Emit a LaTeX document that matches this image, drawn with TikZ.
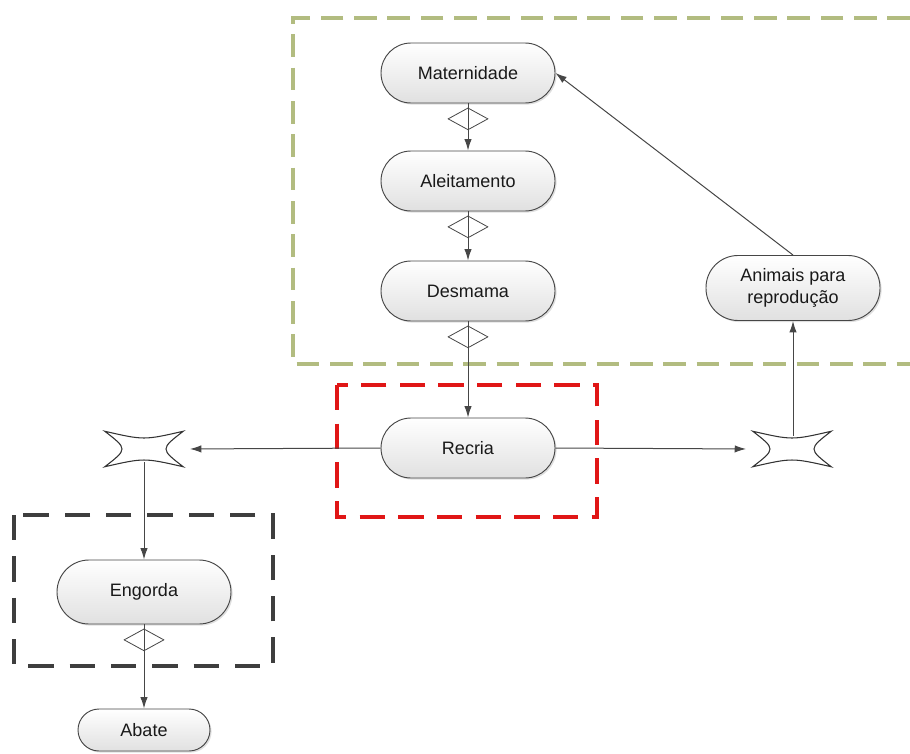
\documentclass[tikz,border=0pt]{standalone}
\usepackage{fontspec}
\setmainfont{Liberation Sans}
\usetikzlibrary{shapes.geometric,shadows,calc,arrows.meta}
\definecolor{boxgreen}{RGB}{178,188,128}
\definecolor{boxred}{RGB}{224,22,22}
\definecolor{boxdark}{RGB}{62,62,62}
\definecolor{linegray}{RGB}{70,70,70}
\definecolor{txt}{RGB}{25,25,25}

\begin{document}
\begin{tikzpicture}[x=0.75pt,y=-0.75pt,
  proc/.style={rectangle, rounded corners=22.5pt, draw=linegray, line width=0.7pt,
    top color=white, bottom color=black!12,
    drop shadow={shadow xshift=1.2pt, shadow yshift=-1.2pt, opacity=0.25},
    font=\fontsize{13.5}{16}\selectfont, text=txt, align=center,
    minimum width=130.5pt, minimum height=45pt, inner sep=0pt},
  smallproc/.style={proc, rounded corners=15.75pt, minimum width=99pt, minimum height=31.5pt},
  gate/.style={diamond, draw=linegray, fill=white, line width=0.6pt,
    minimum width=30pt, minimum height=16.5pt, inner sep=0pt},
  split/.style={rectangle, minimum width=58.5pt, minimum height=26.25pt, inner sep=0pt},
  splitline/.style={draw=black!80, line width=0.8pt, fill=white},
  flow/.style={draw=linegray, line width=0.75pt, -{Latex[length=8.5pt,width=5.5pt]}},
  greendash/.style={draw=boxgreen, line width=3pt, dash pattern=on 17pt off 8pt},
  reddash/.style={draw=boxred, line width=2.5pt, dash pattern=on 19pt off 10pt},
  darkdash/.style={draw=boxdark, line width=3pt, dash pattern=on 19pt off 12pt},
]
\useasboundingbox (0,0) rectangle (910,753);

% grouping frames
\draw[greendash] (910,18) -- (293,18) -- (293,364) -- (910,364);
\draw[reddash] (337,385) rectangle (597,517);
\draw[darkdash] (14,515) rectangle (273,666);

% process steps
\node[proc] (mat) at (468,73) {Maternidade};
\node[proc] (ale) at (468,181) {Aleitamento};
\node[proc] (des) at (468,291) {Desmama};
\node[proc] (rec) at (468,448) {Recria};
\node[proc, minimum height=48.75pt, rounded corners=24pt] (ani) at (793,288) {Animais para\\reprodução};
\node[proc, minimum height=48pt, rounded corners=24pt] (eng) at (144,592) {Engorda};
\node[smallproc] (aba) at (144,730) {Abate};

% decision markers under the steps
\node[gate, anchor=north] (g1) at ($(mat.south)+(0,4)$) {};
\node[gate, anchor=north] (g2) at ($(ale.south)+(0,4)$) {};
\node[gate, anchor=north] (g3) at ($(des.south)+(0,4)$) {};
\node[gate, anchor=north] (g4) at ($(eng.south)+(0,4)$) {};

% split points
\node[split] (ls) at (144,449) {};
\node[split] (rs) at (792,449) {};
\foreach \s in {ls,rs}{
  \path[splitline] (\s.north west)
    .. controls ($(\s.north west)!0.5!(\s.north east)+(0,9)$) .. (\s.north east)
    .. controls ($(\s.north east)!0.5!(\s.south east)+(-23,0)$) .. (\s.south east)
    .. controls ($(\s.south east)!0.5!(\s.south west)+(0,-9)$) .. (\s.south west)
    .. controls ($(\s.south west)!0.5!(\s.north west)+(23,0)$) .. cycle;
}

% connectors
\draw[flow] (mat.south) -- (ale.north);
\draw[flow] (ale.south) -- (des.north);
\draw[flow] (des.south) -- (rec.north);
\draw[flow] (eng.south) -- (aba.north);
\draw[flow, shorten >=5pt] (rec.west) -- (ls.east);
\draw[flow, shorten >=5pt] (rec.east) -- (rs.west);
\draw[flow] ($(ls.south)+(0,-4.5)$) -- (eng.north);
\draw[flow] ($(rs.north)+(1,4.5)$) -- (rs.north -| ani.south) -- (ani.south);
\draw[flow] (ani.north) -- (mat.east);
\end{tikzpicture}
\end{document}
